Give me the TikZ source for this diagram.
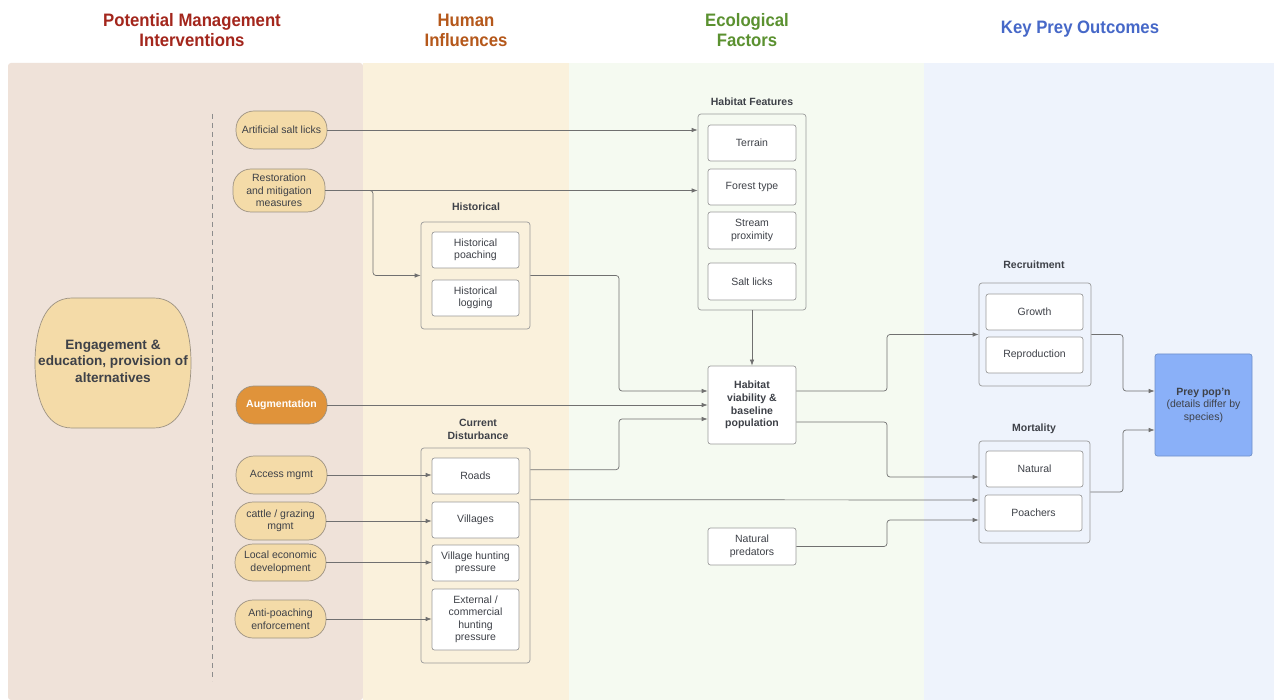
\documentclass[tikz,border=0pt]{standalone}
\usepackage{fontspec}
\setmainfont{Liberation Sans}
\newfontfamily\headfont{Liberation Sans}[FakeStretch=0.93]
\usetikzlibrary{arrows.meta}
\definecolor{pinkp}{HTML}{EFE2D9}
\definecolor{yelp}{HTML}{FAF1DC}
\definecolor{grnp}{HTML}{F5FAF1}
\definecolor{bluep}{HTML}{EEF3FC}
\definecolor{pillf}{HTML}{F4DBA8}
\definecolor{pillb}{HTML}{9C9282}
\definecolor{augf}{HTML}{E0933A}
\definecolor{preyf}{HTML}{8AB0F8}
\definecolor{preyb}{HTML}{6F8FC8}
\definecolor{linec}{HTML}{707070}
\definecolor{boxc}{HTML}{9A9A9A}
\definecolor{txt}{HTML}{3E4148}
\definecolor{hred}{HTML}{A3261C}
\definecolor{horange}{HTML}{B5581B}
\definecolor{hgreen}{HTML}{5B9130}
\definecolor{hblue}{HTML}{4668C8}
\tikzset{
  box/.style={draw=boxc, fill=white, rounded corners=2.5pt, line width=0.7pt, align=center, inner sep=0pt, text=txt, font=\fontsize{10.5}{12.5}\selectfont},
  cont/.style={draw=boxc, rounded corners=3pt, line width=0.7pt, inner sep=0pt},
  pill/.style={draw=pillb, fill=pillf, rounded corners=18pt, line width=0.7pt, minimum width=91pt, minimum height=38pt, inner sep=0pt, align=center, text=txt, font=\fontsize{10.5}{12.5}\selectfont},
  lbl/.style={font=\bfseries\fontsize{10.5}{12.5}\selectfont, text=txt, align=center, inner sep=0pt},
  head/.style={font=\headfont\bfseries\fontsize{18}{20}\selectfont, align=center, inner sep=0pt},
  conn/.style={draw=linec, line width=0.7pt, -{Latex[length=6pt,width=4.5pt]}, rounded corners=3pt},
  plain/.style={draw=linec, line width=0.7pt, rounded corners=3pt}
}
\begin{document}
\begin{tikzpicture}[x=1pt,y=-1pt]
\useasboundingbox (0,0) rectangle (1274,700);
\fill[white] (0,0) rectangle (1274,700);
% panels
\fill[pinkp, rounded corners=3pt] (8,63) rectangle (363,700);
\fill[yelp] (363,63) rectangle (569,700);
\fill[grnp] (569,63) rectangle (924,700);
\fill[bluep] (924,63) rectangle (1274,700);
% headers
\node[head, text=hred] (h1) at (192,30) {Potential Management\\Interventions};
\node[head, text=horange] (h2) at (466,30) {Human\\Influences};
\node[head, text=hgreen] (h3) at (747,30) {Ecological\\Factors};
\node[head, text=hblue] (h4) at (1080,29) {Key Prey Outcomes};
% dashed separator
\draw[draw=linec!80, line width=0.6pt, dash pattern=on 5pt off 4pt] (212,114) -- (212,681);
% engagement
\draw[draw=pillb, fill=pillf, line width=0.7pt]
  (72,298) -- (154,298) .. controls (182,298) and (191,330) .. (191,363)
  .. controls (191,396) and (182,428) .. (154,428) -- (72,428)
  .. controls (44,428) and (35,396) .. (35,363)
  .. controls (35,330) and (44,298) .. (72,298) -- cycle;
\node[align=center, text=txt, inner sep=0pt, font=\bfseries\fontsize{13.6}{16.5}\selectfont] (eng) at (113,361) {Engagement \&\\education, provision of\\alternatives};
% pills
\node[pill] (asl) at (281.5,130) {Artificial salt licks};
\node[pill, minimum height=43pt, minimum width=92pt] (rest) at (279,190.5) {Restoration\\and mitigation\\measures};
\node[pill, fill=augf, text=white, font=\bfseries\fontsize{10.5}{12.5}\selectfont] (aug) at (281.5,405) {Augmentation};
\node[pill] (acc) at (281.5,475) {Access mgmt};
\node[pill] (cat) at (280.5,521) {cattle / grazing\\mgmt};
\node[pill, minimum height=37pt] (loc) at (280.5,562.5) {Local economic\\development};
\node[pill] (anti) at (280.5,619) {Anti-poaching\\enforcement};
% historical
\node[lbl] (histl) at (476,207) {Historical};
\node[cont, minimum width=109pt, minimum height=107pt] (hist) at (475.5,275.5) {};
\node[box, minimum width=87pt, minimum height=36pt] (hp) at (475.5,250) {Historical\\poaching};
\node[box, minimum width=87pt, minimum height=36pt] (hl) at (475.5,298) {Historical\\logging};
% current disturbance
\node[lbl] (cdl) at (478,429.5) {Current\\Disturbance};
\node[cont, minimum width=109pt, minimum height=215pt] (cd) at (475.5,555.5) {};
\node[box, minimum width=87pt, minimum height=36pt] (roads) at (475.5,476) {Roads};
\node[box, minimum width=87pt, minimum height=36pt] (vil) at (475.5,520) {Villages};
\node[box, minimum width=87pt, minimum height=36pt] (vhp) at (475.5,563) {Village hunting\\pressure};
\node[box, minimum width=87pt, minimum height=61pt] (ext) at (475.5,619.5) {External /\\commercial\\hunting\\pressure};
% habitat features
\node[lbl] (hfl) at (752,102) {Habitat Features};
\node[cont, minimum width=108pt, minimum height=196pt] (hf) at (752,212) {};
\node[box, minimum width=88pt, minimum height=36pt] (ter) at (752,143) {Terrain};
\node[box, minimum width=88pt, minimum height=36pt] (for) at (752,187) {Forest type};
\node[box, minimum width=88pt, minimum height=37pt] (str) at (752,230.5) {Stream\\proximity};
\node[box, minimum width=88pt, minimum height=37pt] (sl) at (752,281.5) {Salt licks};
% viability
\node[box, minimum width=88pt, minimum height=78pt, font=\bfseries\fontsize{10.5}{12.8}\selectfont] (hv) at (752,405) {Habitat\\viability \&\\baseline\\population};
\node[box, minimum width=88pt, minimum height=37pt] (np) at (752,546.5) {Natural\\predators};
% recruitment
\node[lbl] (recl) at (1034,265) {Recruitment};
\node[cont, minimum width=112pt, minimum height=103pt] (rec) at (1035,334.5) {};
\node[box, minimum width=97pt, minimum height=36pt] (gro) at (1034.5,312) {Growth};
\node[box, minimum width=97pt, minimum height=36pt] (rep) at (1034.5,355) {Reproduction};
% mortality
\node[lbl] (mortl) at (1034,429) {Mortality};
\node[cont, minimum width=111pt, minimum height=102pt] (mort) at (1034.5,492) {};
\node[box, minimum width=97pt, minimum height=36pt] (nat) at (1034.5,469) {Natural};
\node[box, minimum width=97pt, minimum height=36pt] (poa) at (1033.5,513) {Poachers};
% prey
\node[box, draw=preyb, fill=preyf, minimum width=97pt, minimum height=102pt] (prey) at (1203.5,405) {\textbf{Prey pop'n}\\(details differ by\\species)};
% bus coordinates
\coordinate (b1) at (373,0);
\coordinate (b2) at (619,0);
\coordinate (b3) at (887,0);
\coordinate (b4) at (1123,0);
% connectors
\draw[conn] (asl.east) -- (hf.west |- asl.east);
\draw[conn] (rest.east) -- (hf.west |- rest.east);
\draw[conn] (rest.east) -- (b1 |- rest.east) -- (b1 |- hist.west) -- (hist.west);
\coordinate (hvA) at ([yshift=14pt]hv.west);
\coordinate (hvC) at ([yshift=-14pt]hv.west);
\draw[conn] (hist.east) -- (b2 |- hist.east) -- (b2 |- hvA) -- (hvA);
\draw[conn] (aug.east) -- (hv.west);
\coordinate (cdA) at ([yshift=-22pt]cd.north east);
\coordinate (cdB) at ([yshift=-52pt]cd.north east);
\draw[conn] (cdA) -- (b2 |- cdA) -- (b2 |- hvC) -- (hvC);
\draw[conn] (hf.south) -- (hv.north);
\coordinate (hvD) at ([yshift=14pt]hv.east);
\coordinate (hvE) at ([yshift=-17pt]hv.east);
\draw[conn] (hvD) -- (b3 |- hvD) -- (b3 |- rec.west) -- (rec.west);
\coordinate (mA) at ([yshift=15pt]mort.west);
\coordinate (mB) at ([yshift=-8pt]mort.west);
\coordinate (mC) at ([yshift=-28pt]mort.west);
\draw[conn] (hvE) -- (b3 |- hvE) -- (b3 |- mA) -- (mA);
\draw[conn] (cdB) -- (mB);
\draw[conn] (np.east) -- (b3 |- np.east) -- (b3 |- mC) -- (mC);
\coordinate (pA) at ([yshift=14pt]prey.west);
\coordinate (pB) at ([yshift=-25pt]prey.west);
\draw[conn] (rec.east) -- (b4 |- rec.east) -- (b4 |- pA) -- (pA);
\draw[conn] (mort.east) -- (b4 |- mort.east) -- (b4 |- pB) -- (pB);
\draw[conn] (acc.east) -- (roads.west |- acc.east);
\draw[conn] (cat.east) -- (vil.west |- cat.east);
\draw[conn] (loc.east) -- (vhp.west |- loc.east);
\draw[conn] (anti.east) -- (ext.west |- anti.east);
\end{tikzpicture}
\end{document}
